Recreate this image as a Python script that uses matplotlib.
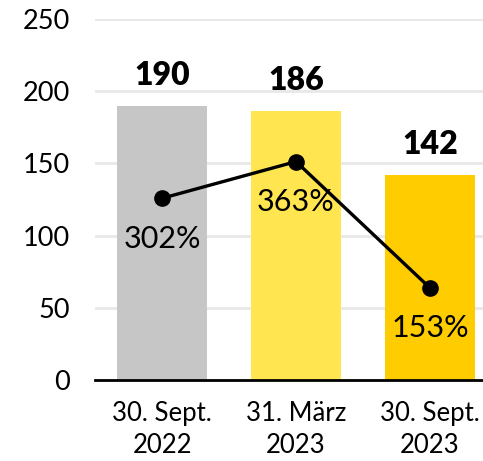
import matplotlib.pyplot as plt
import numpy as np

# data
categories = ["30. Sept.\n2022", "31. März\n2023", "30. Sept.\n2023"]
bar_values = [190, 186, 142]
ratio_values = [302, 363, 153]   # percent, drawn on a hidden 0-600 axis
bar_colors = ["#c6c6c6", "#ffe54f", "#ffcc00"]

plt.rcParams['font.family'] = ['Lato', 'DejaVu Sans']

fig = plt.figure(figsize=(4.83, 4.61), dpi=100)
ax = fig.add_axes([95/483, 1 - 380/461, 402/483, 361/461])
ax2 = ax.twinx()

x = np.arange(len(categories))
ax.set_axisbelow(True)
ax.yaxis.grid(True, color="#e8e8e8", linewidth=2)
ax.bar(x, bar_values, width=0.67, color=bar_colors, zorder=2)
for xi, v in zip(x, bar_values):
    ax.annotate(str(v), (xi, v), xytext=(0, 22), textcoords="offset points",
                ha="center", va="center", fontsize=23, fontweight="heavy")

ax.set_xlim(-0.5, 2.5)
ax.set_ylim(0, 250)
ax.set_yticks([0, 50, 100, 150, 200, 250])
ax.set_xticks(x)
ax.set_xticklabels(categories, fontsize=18.5, linespacing=1.38)
ax.tick_params(axis="y", length=0, pad=18, labelsize=19.5)
ax.tick_params(axis="x", length=0, pad=15)
for s in ["top", "right", "left"]:
    ax.spines[s].set_visible(False)
ax.spines["bottom"].set_linewidth(2)
ax.spines["bottom"].set_zorder(5)

ax2.plot(x, ratio_values, color="black", linewidth=2.4, marker="o",
         markersize=11)
for xi, v in zip(x, ratio_values):
    ax2.annotate(f"{v}%", (xi, v), xytext=(0, -29), textcoords="offset points",
                 ha="center", va="center", fontsize=22)
ax2.set_ylim(0, 600)
ax2.set_yticks([])
for s in ax2.spines.values():
    s.set_visible(False)

fig.savefig("out.png", dpi=100)
